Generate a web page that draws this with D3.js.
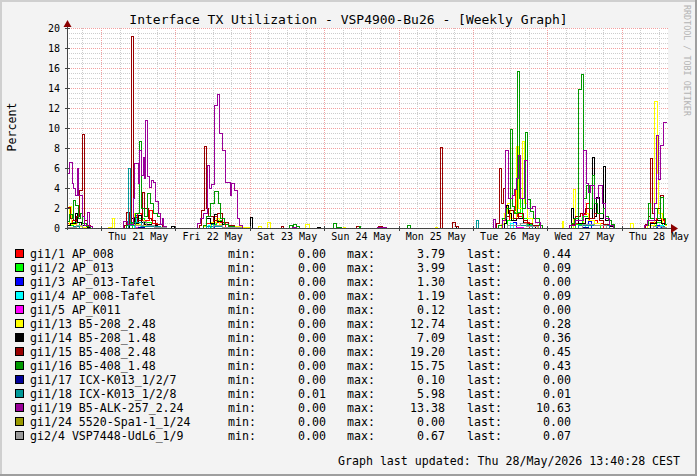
<!DOCTYPE html>
<html>
<head>
<meta charset="utf-8">
<script src="https://cdn.jsdelivr.net/npm/d3@7"></script>
<style>
body { margin: 0; background: #f3f3f3; }
text { font-family: "DejaVu Sans Mono", monospace; fill: #000; }
</style>
</head>
<body>
<div id="chart_wrapper"></div>
<script>
// step data: [hours since Wed 20 May 13:00, percent]
var ap008 = [[0,0.5],[1.5,0.8],[3,0.3],[5,0],[20,0.3],[22.5,1.5],[24,0.8],[26.5,1.8],[27.5,0.5],[29,0],[45,0.5],[47,1.2],[48.5,0.6],[51,0],[141,0.8],[142.5,1.8],[144.5,3.79],[145.3,1.2],[147,0.6],[149,0],[164,0.5],[166,1.4],[167.5,2.5],[168.5,0.8],[171,0.5],[173,0],[188,0.6],[190,1.0],[191.5,0.8],[192.5,0.44],[193.3,0.44]];
var ap013 = [[0,0.3],[2,0.6],[4,0],[21,0.5],[23,1.0],[25,0.6],[27,0.2],[29,0],[46,0.4],[48,0.8],[50,0],[142,0.8],[144,1.6],[146,3.99],[146.8,1.0],[148.5,0.4],[150,0],[164,0.4],[166,1.2],[168,0.8],[170,0.5],[172,0],[188,0.3],[190,0.6],[192,0.09],[193.3,0.09]];
var ap013Tafel = [[0,0],[21.6,1.3],[22.4,0.4],[24,0],[46.5,0.5],[47.5,0],[144,0.6],[145,0],[168,0.7],[169,0],[190.5,0.3],[191.5,0],[193.3,0]];
var ap008Tafel = [[0,0],[21.5,1.19],[22.2,0.4],[23.5,0.2],[25,0],[45.5,0.3],[46.5,0],[143,0.5],[144,0],[167,0.4],[168,0],[191.3,0.3],[192.2,0.09],[193.3,0.09]];
var apK011 = [[0,0],[22,0.12],[24,0.05],[26,0],[145,0.1],[147,0],[193.3,0]];
var b5208_2 = [[0,0.3],[0.8,2.2],[1.3,0.4],[3,0.2],[5,0.1],[6,0],[13.2,0.1],[14.5,1.0],[15.2,0],[20,0.3],[21.5,1.5],[22,0.4],[24,0.8],[25,0.3],[28,0.2],[30,0],[44,0.2],[46,0.6],[48,1.0],[49,0.4],[52,0.2],[56,0.1],[59,0],[61.6,0.23],[62.5,0],[64.6,0.57],[65.5,0],[76.8,0.4],[78.1,0],[89,0.13],[89.7,0],[118.7,0.1],[119.4,0],[140,0.4],[141,1.5],[142,2.5],[143,1.0],[144.8,8.2],[145.5,2.0],[146.8,8.7],[147.5,2.5],[148.5,1.0],[150,0.3],[151.5,0],[159.6,0.7],[160.1,0],[163.3,3.9],[163.9,1.0],[165,0.5],[166.5,1.5],[168,0.8],[170,0.5],[172,0.3],[174,0],[181.8,0.5],[182.5,0],[187,0.3],[189.4,12.74],[190.2,5.5],[190.7,1.5],[192,0.5],[192.8,0.28],[193.3,0.28]];
var b5208_1 = [[0,0.3],[1,0.5],[2.5,1.5],[3.2,0.6],[4.5,0.3],[5.5,0.5],[6.5,0.1],[7.5,0],[20,0.3],[20.6,1.0],[21.5,0.5],[23,1.3],[24,0.6],[25,0.4],[27,0.3],[29,0.1],[30,0],[33.5,0.2],[34.5,0],[44,0.3],[45,1.0],[46,0.5],[47.5,1.4],[48.5,0.7],[50,0.4],[52,0.2],[54,0],[59,1.07],[59.8,0],[80.6,0.13],[81.6,0],[125.5,0.23],[126,0],[141,0.5],[141.6,2.3],[142.4,1.5],[143.3,0.8],[145,1.0],[147,0.5],[149,0.3],[151,0],[162.5,2.0],[163.3,1.0],[165,0.5],[167,1.0],[169.3,7.09],[170.1,1.2],[170.8,3.1],[171.5,1.0],[172.8,6.2],[173.5,0.8],[175,0.2],[176,0],[188,0.5],[190,0.8],[191.5,0.5],[192.5,0.36],[193.3,0.36]];
var b5408_2 = [[0,2.1],[1,1.0],[2,0.8],[3,1.2],[4,3.8],[4.7,9.4],[5.5,0.8],[6.5,0.3],[7.5,0],[18.5,0.3],[19,1.6],[20,0.5],[20.6,19.2],[21.3,1.1],[22.5,0.8],[24.2,3.6],[25,2.0],[26,1.0],[27,0.8],[28.5,0.4],[30.5,0.2],[31.5,0],[42.5,0.3],[43.2,1.8],[44.2,8.2],[44.8,2.0],[45.5,1.2],[47,0.8],[48.5,1.5],[50,0.6],[52,0.3],[54,0.1],[55,0],[69,0.23],[69.8,0],[93.2,0.17],[94.1,0],[100.3,0.23],[101.6,0],[120.3,8.1],[121.1,0],[124.2,0.57],[125.3,0.2],[126,0],[138.5,0.5],[139.4,6.0],[140,2.5],[140.6,4.0],[141.2,1.2],[142.5,1.8],[144,1.0],[145.5,1.5],[147,0.8],[148.5,0.5],[150,0.3],[152,0],[162.5,0.4],[164,1.2],[165.5,1.5],[167,2.0],[168.5,1.0],[170,1.5],[171.5,0.8],[173,0.4],[175,0],[186.5,0.4],[187.5,1.2],[188.1,7.0],[188.6,1.5],[189.5,0.8],[190.5,2.0],[191.3,3.3],[192.2,0.9],[192.8,0.45],[193.3,0.45]];
var b5408_1 = [[0,0.7],[0.8,1.4],[1.5,1.0],[1.8,2.8],[2.6,2.3],[3.5,1.0],[4.3,1.5],[5,0.5],[6,0.2],[7.5,0],[19,0.3],[20.5,0.6],[22,1.5],[23.2,8.7],[23.9,2.0],[24.8,1.2],[25.8,3.5],[26.8,2.5],[27.8,1.5],[29,1.2],[30,0.4],[31,0],[44,0.3],[45,1.2],[46,2.5],[47.4,3.7],[48.6,2.5],[49.5,1.0],[50.5,0.4],[52,0.2],[54,0],[71.7,0.27],[72.5,0.05],[72.9,0.37],[73.8,0.2],[75,0],[85.9,0.47],[86.7,0.07],[88.5,0],[94.1,0.17],[94.5,0],[109.6,0.3],[110.6,0],[139,0.3],[140.5,1.0],[141.5,2.0],[142.9,9.9],[143.5,2.2],[144.3,1.5],[145.3,15.75],[145.9,3.0],[146.8,2.0],[147.8,9.6],[148.5,2.9],[149.4,1.7],[150.5,1.0],[152.3,0.3],[153.1,0],[162.5,0.5],[163.5,1.0],[164.9,13.9],[165.7,15.4],[166.5,3.0],[167.3,4.3],[168.3,2.0],[169.3,5.3],[170.1,2.5],[171,1.5],[172.8,2.0],[173.5,1.2],[174.5,0.8],[175.5,0.4],[176.5,0],[186,0.3],[187.3,2.5],[188.1,1.0],[189.4,2.0],[190.5,1.0],[191.3,3.1],[192.2,1.0],[192.8,0.43],[193.3,0.43]];
var icx127 = [[0,0],[23,0.1],[25,0],[166,0.08],[168,0],[193.3,0]];
var icx128 = [[0,0.05],[2,0.2],[4,0.05],[19.6,5.98],[20.2,0.3],[22,0.6],[24,0.2],[30,0.02],[45,0.2],[50,0.05],[60,0.01],[131.8,0.8],[132.5,0.01],[142,0.3],[150,0.02],[165,0.3],[175,0.02],[190,0.2],[192.5,0.01],[193.3,0.01]];
var b5alk = [[0,5.5],[0.7,6.6],[1.5,4.5],[2,4.0],[2.6,3.3],[3.1,6.0],[3.5,3.3],[4.7,1.2],[5.5,0.3],[6.3,1.6],[7.2,0.2],[8,0],[18,0.7],[19.5,0.4],[21.3,3.0],[21.6,6.5],[22.9,4.5],[23.2,7.8],[23.9,5.3],[24.4,7.1],[24.9,5.0],[25.2,10.8],[25.8,5.2],[26.5,4.1],[27,4.8],[27.8,4.6],[28.4,2.7],[29.4,1.5],[30,0.4],[30.6,1.0],[31,0.2],[32,0],[42,0.5],[43,1.0],[44,1.5],[45.1,6.3],[45.8,4.0],[46.5,4.4],[47.4,12.3],[48.3,13.38],[49.1,9.5],[50.1,7.8],[51,4.6],[52.5,3.3],[53,4.5],[53.8,3.8],[54.8,1.0],[55.5,0.3],[56.5,0],[72.5,0.13],[74,0],[100,0.07],[101,0.1],[103,0],[137.3,0.87],[138,0],[140.5,0.8],[141.4,7.8],[142.4,3.0],[143.5,3.3],[144.3,3.9],[145,5.0],[145.5,7.3],[146.3,3.0],[147.5,6.8],[148.5,2.0],[150.1,2.2],[151,0.6],[152.5,0],[162,0.3],[164,0.8],[166.5,7.8],[167.3,4.5],[168,3.6],[168.8,4.3],[170,3.0],[171.3,4.3],[172.5,2.5],[173.5,1.0],[175,0.3],[176,0],[186,0.3],[187,0.8],[189.4,2.5],[190,9.3],[190.7,4.9],[191.3,8.3],[192.4,10.63],[193.3,10.63]];
var spa = [[0,0],[193.3,0]];
var vsp7448 = [[0,0.1],[3,0.3],[5,0.05],[22,0.3],[24.5,0.67],[25.5,0.3],[28,0.1],[32,0.02],[47,0.3],[50,0.1],[56,0.02],[142,0.3],[146,0.5],[148,0.2],[152,0.02],[166,0.4],[170,0.3],[174,0.05],[189,0.2],[192,0.07],[193.3,0.07]];

var seriesNames = ["gi1/1 AP_008", "gi1/2 AP_013", "gi1/3 AP_013-Tafel", "gi1/4 AP_008-Tafel", "gi1/5 AP_K011",
    "gi1/13 B5-208_2.48", "gi1/14 B5-208_1.48", "gi1/15 B5-408_2.48", "gi1/16 B5-408_1.48",
    "gi1/17 ICX-K013_1/2/7", "gi1/18 ICX-K013_1/2/8", "gi1/19 B5-ALK-257_2.24", "gi1/24 5520-Spa1-1_1/24", "gi2/4 VSP7448-UdL6_1/9"];
var seriesColors = ["#ff0000", "#00ff00", "#0000ff", "#00ffff", "#ff00ff", "#ffff00", "#000000", "#990000", "#009900",
    "#000099", "#009999", "#990099", "#999900", "#999999"];
var minValues = ["0.00", "0.00", "0.00", "0.00", "0.00", "0.00", "0.00", "0.00", "0.00", "0.00", "0.01", "0.00", "0.00", "0.00"];
var maxValues = ["3.79", "3.99", "1.30", "1.19", "0.12", "12.74", "7.09", "19.20", "15.75", "0.10", "5.98", "13.38", "0.00", "0.67"];
var lastValues = ["0.44", "0.09", "0.00", "0.09", "0.00", "0.28", "0.36", "0.45", "0.43", "0.00", "0.01", "10.63", "0.00", "0.07"];
var seriesData = [ap008, ap013, ap013Tafel, ap008Tafel, apK011, b5208_2, b5208_1, b5408_2, b5408_1, icx127, icx128, b5alk, spa, vsp7448];
var yTicks = [0, 2, 4, 6, 8, 10, 12, 14, 16, 18, 20];

var width = 697, height = 476;
var plot = {left: 67, right: 668, top: 28, bottom: 228};
var t0 = new Date(2026, 4, 20, 13, 0);
var t1 = new Date(t0.getTime() + 193.9 * 3600e3);
function toDate(h) { return new Date(t0.getTime() + h * 3600e3); }
function px(v) { return Math.round(v) + 0.5; }

var x = d3.scaleTime().domain([t0, t1]).range([plot.left, plot.right]);
var y = d3.scaleLinear().domain([0, 20]).range([plot.bottom, plot.top]);

var svg = d3.select("#chart_wrapper").append("svg").attr("width", width).attr("height", height);

// background + 3d frame
svg.append("rect").attr("width", width).attr("height", height).attr("fill", "#f3f3f3");
svg.append("rect").attr("x", 0).attr("y", 0).attr("width", width).attr("height", 2).attr("fill", "#cfcfcf");
svg.append("rect").attr("x", 0).attr("y", 0).attr("width", 2).attr("height", height).attr("fill", "#cfcfcf");
svg.append("rect").attr("x", 0).attr("y", height - 2).attr("width", width).attr("height", 2).attr("fill", "#9e9e9e");
svg.append("rect").attr("x", width - 2).attr("y", 0).attr("width", 2).attr("height", height).attr("fill", "#9e9e9e");

svg.append("rect").attr("x", plot.left).attr("y", plot.top).attr("width", plot.right - plot.left).attr("height", plot.bottom - plot.top).attr("fill", "#ffffff");

var grid = svg.append("g").attr("shape-rendering", "crispEdges").attr("stroke-width", 1).attr("stroke-dasharray", "1,1");

// horizontal grid
y.ticks(40).forEach(function(v) {
    if (v === 0) return;
    var major = Math.abs(v % 2) < 1e-9;
    grid.append("line").attr("x1", plot.left).attr("x2", plot.right).attr("y1", px(y(v))).attr("y2", px(y(v)))
        .attr("stroke", major ? "#f2a0a0" : "#cdcdcd");
});
// vertical grid
d3.timeHour.every(6).range(t0, t1).forEach(function(t) {
    var major = t.getHours() === 0;
    grid.append("line").attr("x1", px(x(t))).attr("x2", px(x(t))).attr("y1", plot.top).attr("y2", plot.bottom)
        .attr("stroke", major ? "#f2a0a0" : "#cdcdcd");
});

// series, drawn in legend order
var line = d3.line()
    .x(function(d) { return px(x(toDate(d[0]))); })
    .y(function(d) { return px(y(d[1])); })
    .curve(d3.curveStepAfter);

seriesData.forEach(function(data, i) {
    svg.append("path").datum(data).attr("d", line)
        .attr("fill", "none").attr("stroke", seriesColors[i]).attr("stroke-width", 1.2)
        .attr("shape-rendering", "crispEdges");
});

// axes
var axis = svg.append("g").attr("shape-rendering", "crispEdges");
axis.append("line").attr("x1", px(plot.left)).attr("x2", px(plot.left)).attr("y1", plot.bottom + 2).attr("y2", 23).attr("stroke", "#444");
axis.append("line").attr("x1", plot.left - 2).attr("x2", 672).attr("y1", px(plot.bottom)).attr("y2", px(plot.bottom)).attr("stroke", "#444");
yTicks.forEach(function(v) {
    axis.append("line").attr("x1", plot.left - 2).attr("x2", plot.left + 3).attr("y1", px(y(v))).attr("y2", px(y(v))).attr("stroke", "#444");
});
d3.timeDay.range(t0, t1).forEach(function(t) {
    axis.append("line").attr("x1", px(x(t))).attr("x2", px(x(t))).attr("y1", plot.bottom - 2).attr("y2", plot.bottom + 3).attr("stroke", "#444");
});
svg.append("path").attr("d", "M63.5,27 L67.5,20 L71.5,27 Z").attr("fill", "#8b0000");
svg.append("path").attr("d", "M671,224 L678,228.5 L671,233 Z").attr("fill", "#8b0000");

// axis labels
svg.append("g").selectAll("text").data(yTicks).enter().append("text")
    .attr("x", 60).attr("y", function(d) { return y(d) + 3.6; })
    .attr("text-anchor", "end").style("font-size", "10px").text(function(d) { return d; });

var dayFmt = d3.timeFormat("%a %d %b");
svg.append("g").selectAll("text").data(d3.timeDay.range(t0, t1)).enter().append("text")
    .attr("x", function(d) { return x(d3.timeHour.offset(d, 12)); }).attr("y", 240)
    .attr("text-anchor", "middle").style("font-size", "10px").text(dayFmt);

svg.append("text").attr("x", width / 2).attr("y", 23.5).attr("text-anchor", "middle").style("font-size", "13px")
    .text("Interface TX Utilization - VSP4900-Bu26 - [Weekly Graph]");

svg.append("text").attr("transform", "translate(15.5,127) rotate(-90)").attr("text-anchor", "middle")
    .style("font-size", "11.6px").text("Percent");

svg.append("text").attr("transform", "translate(684,5) rotate(90)").style("font-size", "8.4px").style("fill", "#b4b4b4")
    .text("RRDTOOL / TOBI OETIKER");

// legend
var legend = svg.append("g").style("font-size", "11.6px");
seriesNames.forEach(function(name, i) {
    var by = 258 + i * 14;
    legend.append("rect").attr("x", 15.5).attr("y", by - 8.5).attr("width", 8).attr("height", 8)
        .attr("fill", seriesColors[i]).attr("stroke", "#000").attr("shape-rendering", "crispEdges");
    legend.append("text").attr("x", 30).attr("y", by).text(name);
    legend.append("text").attr("x", 228).attr("y", by).text("min:");
    legend.append("text").attr("x", 326).attr("y", by).attr("text-anchor", "end").text(minValues[i]);
    legend.append("text").attr("x", 347).attr("y", by).text("max:");
    legend.append("text").attr("x", 445).attr("y", by).attr("text-anchor", "end").text(maxValues[i]);
    legend.append("text").attr("x", 467).attr("y", by).text("last:");
    legend.append("text").attr("x", 571).attr("y", by).attr("text-anchor", "end").text(lastValues[i]);
});

svg.append("text").attr("x", 338).attr("y", 465).style("font-size", "11.6px")
    .text("Graph last updated: Thu 28/May/2026 13:40:28 CEST");
</script>
</body>
</html>
